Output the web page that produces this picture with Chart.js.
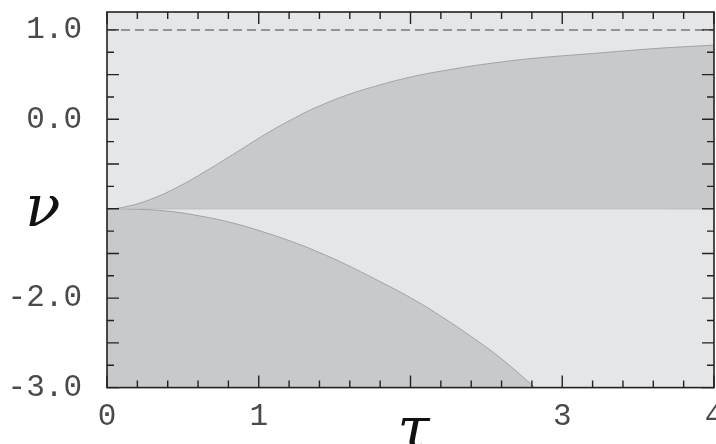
<!DOCTYPE html>
<html>
  <head>
    <title>nu vs tau</title>
    <script src="https://cdn.jsdelivr.net/npm/chart.js"></script>
    <style>
      body { margin: 0; background: #fff; }
      #wrap { width: 716px; height: 444px; }
    </style>
  </head>
  <body>
    <div id="wrap"><canvas id="nu-chart"></canvas></div>

    <script>
      // upper branch
      const upperTau = [0, 0.09, 0.28, 0.48, 0.68, 0.88, 1.07, 1.27, 1.36, 1.58, 1.80, 2.02, 2.24, 2.46, 2.80, 3.23, 3.60, 4.0]
      const upperNu = [-1.0, -0.99, -0.90, -0.745, -0.55, -0.34, -0.14, 0.045, 0.12, 0.27, 0.385, 0.48, 0.55, 0.61, 0.68, 0.74, 0.79, 0.83]

      // lower branch
      const lowerTau = [0, 0.1, 0.39, 0.61, 0.83, 1.05, 1.27, 1.40, 1.54, 1.80, 2.00, 2.19, 2.46, 2.63, 2.82]
      const lowerNu = [-1.0, -1.0, -1.025, -1.08, -1.16, -1.27, -1.40, -1.49, -1.595, -1.815, -1.995, -2.19, -2.50, -2.72, -3.0]

      const midLine = [{ x: 0, y: -1 }, { x: 4, y: -1 }]
      const limitLine = [{ x: 0, y: 1 }, { x: 4, y: 1 }]

      // tick labels
      const xLabelValues = [0, 1, 3, 4]
      const yLabelValues = [1, 0, -2, -3]

      const toPoints = (xs, ys) => xs.map((x, i) => ({ x: x, y: ys[i] }))

      const lightGray = '#e5e6e8'
      const darkGray = '#c8c9cb'
      const edgeGray = '#a2a2a4'
      const inkColor = '#222'

      // light background + inward ticks + frame + symbols
      const framePlugin = {
        id: 'frame',
        beforeDraw(chart) {
          const { ctx, chartArea: a } = chart
          ctx.save()
          ctx.fillStyle = lightGray
          ctx.fillRect(a.left, a.top, a.right - a.left, a.bottom - a.top)
          ctx.restore()
        },
        afterDatasetsDraw(chart) {
          const { ctx, chartArea: a, scales } = chart
          const xs = scales.x
          const ys = scales.y
          ctx.save()
          ctx.strokeStyle = inkColor
          ctx.lineWidth = 1.4
          ctx.beginPath()
          for (let i = 0; i <= 20; i++) {
            const v = i * 0.2
            const len = i % 5 === 0 ? 12 : 7
            const px = xs.getPixelForValue(v)
            ctx.moveTo(px, a.bottom); ctx.lineTo(px, a.bottom - len)
            ctx.moveTo(px, a.top); ctx.lineTo(px, a.top + len)
          }
          for (let i = 0; i <= 16; i++) {
            const v = -3 + i * 0.25
            const len = i % 2 === 0 ? 12 : 7
            const py = ys.getPixelForValue(v)
            ctx.moveTo(a.left, py); ctx.lineTo(a.left + len, py)
            ctx.moveTo(a.right, py); ctx.lineTo(a.right - len, py)
          }
          ctx.stroke()
          ctx.lineWidth = 1.6
          ctx.strokeRect(a.left, a.top, a.right - a.left, a.bottom - a.top)

          ctx.fillStyle = '#111'
          ctx.font = 'italic 58px "DejaVu Serif", serif'
          ctx.textAlign = 'center'
          ctx.textBaseline = 'alphabetic'
          ctx.fillText('ν', 43, 226)
          ctx.fillText('τ', (a.left + a.right) / 2 + 3, 448)
          ctx.restore()
        }
      }

      const tickFont = { family: '"Liberation Mono", "Courier New", monospace', size: 31 }

      new Chart(document.getElementById('nu-chart'), {
        type: 'line',
        data: {
          datasets: [
            {
              data: toPoints(upperTau, upperNu),
              fill: { value: -1 },
              backgroundColor: darkGray,
              borderColor: edgeGray,
              borderWidth: 1,
              pointRadius: 0,
              tension: 0.4
            },
            {
              data: toPoints(lowerTau, lowerNu),
              fill: 'start',
              backgroundColor: darkGray,
              borderColor: edgeGray,
              borderWidth: 1,
              pointRadius: 0,
              tension: 0.4
            },
            {
              data: midLine,
              fill: false,
              borderColor: edgeGray,
              borderWidth: 1,
              pointRadius: 0
            },
            {
              data: limitLine,
              fill: false,
              borderColor: '#7a7a7a',
              borderWidth: 1.5,
              borderDash: [9, 5],
              pointRadius: 0
            }
          ]
        },
        options: {
          responsive: true,
          maintainAspectRatio: false,
          animation: false,
          layout: { padding: { top: 12, right: 2, left: 0, bottom: 0 } },
          scales: {
            x: {
              type: 'linear',
              min: 0,
              max: 4,
              grid: { display: false },
              border: { display: false },
              afterBuildTicks: scale => {
                scale.ticks = xLabelValues.map(v => ({ value: v }))
              },
              afterFit: scale => {
                scale.height = 56.4
                scale.paddingLeft = 0
                scale.paddingRight = 0
              },
              ticks: {
                maxRotation: 0,
                autoSkip: false,
                padding: 3,
                color: '#4a4a4a',
                font: tickFont,
                callback: v => String(v)
              }
            },
            y: {
              type: 'linear',
              min: -3,
              max: 1.2,
              grid: { display: false },
              border: { display: false },
              afterBuildTicks: scale => {
                scale.ticks = yLabelValues.map(v => ({ value: v }))
              },
              afterFit: scale => {
                scale.width = 107
                scale.paddingTop = 0
                scale.paddingBottom = 0
              },
              ticks: {
                autoSkip: false,
                padding: 17,
                color: '#4a4a4a',
                font: tickFont,
                callback: v => v.toFixed(1)
              }
            }
          },
          plugins: {
            legend: { display: false },
            tooltip: { enabled: false }
          }
        },
        plugins: [framePlugin]
      })
    </script>
  </body>
</html>
